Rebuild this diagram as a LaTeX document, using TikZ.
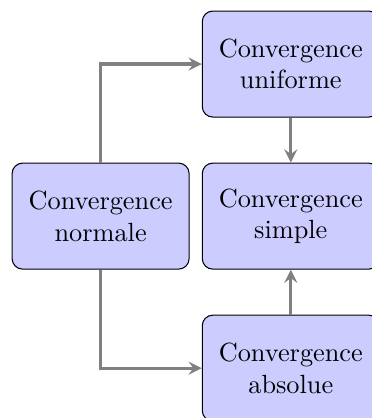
\documentclass[tikz,border=0pt]{standalone}
\usepackage{xcolor}
\usepackage{tikz}
\usetikzlibrary{positioning}

\begin{document}
\begin{tikzpicture}[node distance=17.1pt and 4.6pt,
  box/.style={draw, fill=blue!20, rounded corners, align=center, minimum width=67.3pt, minimum height=40.3pt},
  arr/.style={-stealth, very thick, gray}]
\useasboundingbox (0,0) rectangle (141.1pt,-158.9pt);
\node[box] (normale) at (38.25pt,-82.15pt) {Convergence\\normale};
\node[box, right=of normale] (simple) {Convergence\\simple};
\node[box, above=of simple] (uniforme) {Convergence\\uniforme};
\node[box, below=of simple] (absolue) {Convergence\\absolue};

\draw[arr] (normale.north) |- (uniforme.west);
\draw[arr] (normale.south) |- (absolue.west);
\draw[arr] (uniforme) -- (simple);
\draw[arr] (absolue) -- (simple);

\end{tikzpicture}
\end{document}
